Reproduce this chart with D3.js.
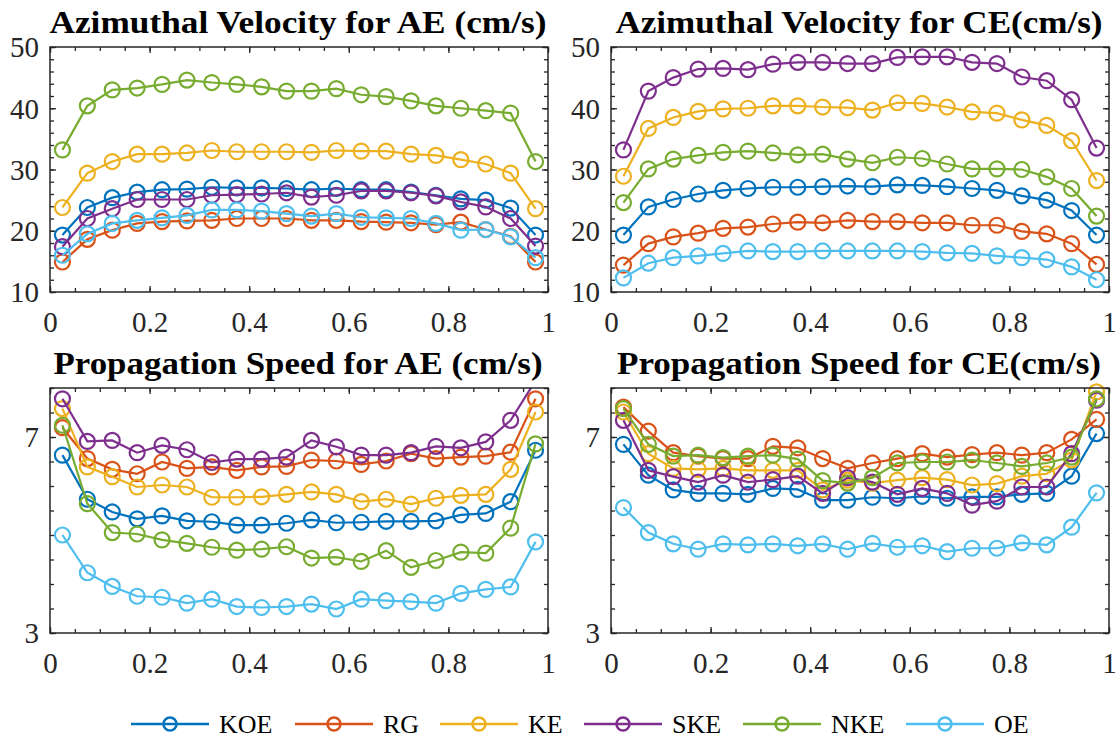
<!DOCTYPE html>
<html>
<head>
<meta charset="utf-8">
<script src="https://cdn.jsdelivr.net/npm/d3@7"></script>
</head>
<body style="margin:0; font-family:'Liberation Serif'">
<div id="chart" style="position:relative; width:1118px; height:738px; font-family:'Liberation Serif'">
  <svg id="fig" width="1118" height="738" style="font-family:'Liberation Serif'"></svg>
  <div style="position:absolute; left:0; top:0; font-size:1px; color:#fff">&nbsp;</div>
</div>
<script>
// normalised radius positions of the 20 bins
var xPos = [0.025, 0.075, 0.125, 0.175, 0.225, 0.275, 0.325, 0.375, 0.425, 0.475,
            0.525, 0.575, 0.625, 0.675, 0.725, 0.775, 0.825, 0.875, 0.925, 0.975];

var seriesNames = ["KOE", "RG", "KE", "SKE", "NKE", "OE"];
var seriesColors = ["#0072BD", "#D95319", "#EDB120", "#7E2F8E", "#77AC30", "#4DBEEE"];

var xTicks = [0, 0.2, 0.4, 0.6, 0.8, 1];
var xTickLabels = ["0", "0.2", "0.4", "0.6", "0.8", "1"];
var velTicks = [10, 20, 30, 40, 50];
var speedTicks = [3, 7];

// series order: KOE, RG, KE, SKE, NKE, OE
var velAE = [
  [19.3, 23.8, 25.4, 26.3, 26.7, 26.8, 27.1, 27.0, 27.0, 26.9, 26.7, 26.9, 26.7, 26.7, 26.3, 25.8, 25.2, 25.0, 23.7, 19.3],
  [14.9, 18.6, 20.1, 21.2, 21.5, 21.6, 21.7, 22.0, 22.0, 22.0, 21.7, 21.7, 21.5, 21.4, 21.3, 21.0, 21.4, 20.2, 19.1, 14.9],
  [23.8, 29.4, 31.3, 32.5, 32.5, 32.7, 33.1, 32.9, 32.9, 32.9, 32.8, 33.1, 33.0, 33.0, 32.5, 32.3, 31.6, 30.9, 29.4, 23.6],
  [17.4, 22.0, 23.6, 25.1, 25.1, 25.1, 25.8, 25.9, 26.0, 26.2, 25.5, 25.8, 26.5, 26.5, 26.2, 25.7, 24.7, 23.9, 22.0, 17.5],
  [33.2, 40.4, 43.0, 43.3, 43.9, 44.6, 44.2, 43.9, 43.5, 42.8, 42.8, 43.2, 42.2, 41.9, 41.2, 40.4, 40.0, 39.6, 39.2, 31.3],
  [16.0, 19.5, 21.2, 21.7, 22.1, 22.5, 23.4, 23.4, 23.2, 22.8, 22.4, 22.8, 22.2, 22.1, 22.0, 21.2, 20.1, 20.2, 19.0, 15.6]
];
var velCE = [
  [19.3, 23.9, 25.1, 26.0, 26.6, 26.9, 27.1, 27.1, 27.2, 27.3, 27.2, 27.5, 27.4, 27.2, 26.9, 26.6, 25.7, 25.0, 23.3, 19.3],
  [14.4, 17.9, 19.0, 19.6, 20.4, 20.6, 21.1, 21.4, 21.3, 21.7, 21.5, 21.5, 21.3, 21.3, 20.9, 20.9, 19.9, 19.5, 17.9, 14.5],
  [28.9, 36.7, 38.5, 39.5, 39.9, 40.0, 40.4, 40.4, 40.2, 40.1, 39.7, 40.9, 40.8, 40.2, 39.4, 39.2, 38.1, 37.2, 34.7, 28.2],
  [33.2, 42.8, 45.0, 46.4, 46.5, 46.3, 47.2, 47.5, 47.5, 47.3, 47.3, 48.3, 48.4, 48.4, 47.5, 47.3, 45.1, 44.5, 41.4, 33.5],
  [24.6, 30.1, 31.7, 32.3, 32.8, 33.0, 32.7, 32.4, 32.5, 31.7, 31.1, 32.0, 31.8, 30.9, 30.1, 30.1, 30.0, 28.8, 26.9, 22.4],
  [12.3, 14.7, 15.6, 15.9, 16.3, 16.7, 16.6, 16.6, 16.7, 16.7, 16.7, 16.7, 16.6, 16.4, 16.3, 15.9, 15.6, 15.3, 14.1, 12.0]
];
var speedAE = [
  [6.63, 5.73, 5.47, 5.33, 5.39, 5.29, 5.27, 5.20, 5.20, 5.24, 5.31, 5.25, 5.26, 5.28, 5.28, 5.29, 5.41, 5.44, 5.68, 6.73],
  [7.19, 6.56, 6.34, 6.25, 6.49, 6.36, 6.39, 6.32, 6.39, 6.40, 6.53, 6.51, 6.44, 6.51, 6.66, 6.56, 6.59, 6.61, 6.69, 7.78],
  [7.58, 6.39, 6.19, 5.98, 6.02, 5.98, 5.77, 5.77, 5.78, 5.83, 5.88, 5.83, 5.68, 5.73, 5.63, 5.75, 5.81, 5.83, 6.34, 7.51],
  [7.78, 6.91, 6.93, 6.68, 6.83, 6.74, 6.48, 6.55, 6.55, 6.59, 6.93, 6.80, 6.63, 6.63, 6.68, 6.81, 6.78, 6.90, 7.34, 8.15],
  [7.24, 5.64, 5.05, 5.02, 4.90, 4.83, 4.75, 4.69, 4.71, 4.76, 4.53, 4.55, 4.46, 4.68, 4.34, 4.48, 4.65, 4.63, 5.14, 6.86],
  [5.00, 4.23, 3.95, 3.75, 3.73, 3.61, 3.69, 3.54, 3.52, 3.54, 3.59, 3.49, 3.69, 3.66, 3.64, 3.61, 3.81, 3.89, 3.94, 4.86]
];
var speedCE = [
  [6.85, 6.22, 5.92, 5.85, 5.85, 5.83, 5.95, 5.93, 5.71, 5.71, 5.77, 5.75, 5.79, 5.75, 5.78, 5.78, 5.83, 5.85, 6.20, 7.07],
  [7.61, 7.12, 6.68, 6.61, 6.56, 6.56, 6.81, 6.78, 6.56, 6.36, 6.47, 6.56, 6.66, 6.59, 6.64, 6.68, 6.63, 6.68, 6.95, 7.36],
  [7.51, 6.66, 6.36, 6.34, 6.36, 6.32, 6.32, 6.32, 5.92, 6.12, 6.06, 6.12, 6.17, 6.13, 6.02, 6.05, 6.20, 6.25, 6.53, 7.92],
  [7.34, 6.32, 6.19, 6.08, 6.22, 6.08, 6.13, 6.20, 5.85, 6.17, 6.08, 5.83, 5.95, 5.85, 5.61, 5.69, 5.98, 5.98, 6.66, 7.75],
  [7.58, 6.85, 6.61, 6.63, 6.58, 6.61, 6.63, 6.55, 6.11, 6.06, 6.17, 6.47, 6.49, 6.49, 6.53, 6.47, 6.40, 6.47, 6.59, 7.78],
  [5.56, 5.05, 4.82, 4.71, 4.82, 4.80, 4.82, 4.78, 4.82, 4.71, 4.83, 4.75, 4.78, 4.66, 4.73, 4.73, 4.84, 4.80, 5.16, 5.86]
];

var W = 498, H = 245;
var panels = [
  {title: "Azimuthal Velocity for AE (cm/s)", data: velAE, left: 50, top: 47, ydom: [10, 50], yt: velTicks, ystep: 2, tlen: 497},
  {title: "Azimuthal Velocity for CE(cm/s)", data: velCE, left: 611, top: 47, ydom: [10, 50], yt: velTicks, ystep: 2, tlen: 487},
  {title: "Propagation Speed for AE (cm/s)", data: speedAE, left: 50, top: 388, ydom: [3, 8], yt: speedTicks, ystep: 0.5, tlen: 489},
  {title: "Propagation Speed for CE(cm/s)", data: speedCE, left: 611, top: 388, ydom: [3, 8], yt: speedTicks, ystep: 0.5, tlen: 484}
];
// legend entry left edges (layout)
var legendX = [131, 295, 440, 584, 743, 906];

var svg = d3.select("#fig");
var axCol = "#262626";
var FONT = "Liberation Serif";

function setFont(sel) {
  sel.attr("font-family", FONT).style("font-family", "'Liberation Serif'");
}

panels.forEach(function(p, pi) {
  var g = svg.append("g").attr("transform", "translate(" + p.left + "," + p.top + ")");
  var x = d3.scaleLinear().domain([0, 1]).range([0, W]);
  var y = d3.scaleLinear().domain(p.ydom).range([H, 0]);

  // title
  g.append("text")
    .attr("x", W / 2 - 1).attr("y", -14)
    .attr("text-anchor", "middle")
    .call(setFont)
    .attr("font-weight", "bold").attr("font-size", 31)
    .attr("textLength", p.tlen).attr("lengthAdjust", "spacingAndGlyphs")
    .attr("fill", "#000")
    .text(p.title);

  var xMinor = d3.range(0, 1.0001, 0.05);
  var yMinor = d3.range(p.ydom[0], p.ydom[1] + 0.0001, p.ystep);

  function styleAxis(sel) {
    sel.call(setFont);
    sel.selectAll("path, line").attr("stroke", axCol).attr("stroke-width", 1.3);
    sel.select(".domain").remove();
  }

  // minor ticks on all four sides
  g.append("g").attr("transform", "translate(0," + H + ")")
    .call(d3.axisBottom(x).tickValues(xMinor).tickSize(-4).tickFormat("")).call(styleAxis);
  g.append("g")
    .call(d3.axisTop(x).tickValues(xMinor).tickSize(-4).tickFormat("")).call(styleAxis);
  g.append("g")
    .call(d3.axisLeft(y).tickValues(yMinor).tickSize(-4).tickFormat("")).call(styleAxis);
  g.append("g").attr("transform", "translate(" + W + ",0)")
    .call(d3.axisRight(y).tickValues(yMinor).tickSize(-4).tickFormat("")).call(styleAxis);

  // major ticks with labels
  var xa = g.append("g").attr("transform", "translate(0," + H + ")")
    .call(d3.axisBottom(x).tickValues(xTicks).tickSize(-6).tickPadding(19)
      .tickFormat(function(d, i) { return xTickLabels[i]; }));
  xa.call(styleAxis);
  xa.selectAll("text").call(setFont).attr("font-size", 29).attr("fill", axCol);

  var ya = g.append("g")
    .call(d3.axisLeft(y).tickValues(p.yt).tickSize(-6).tickPadding(11).tickFormat(d3.format("d")));
  ya.call(styleAxis);
  ya.selectAll("text").call(setFont).attr("font-size", 29).attr("dy", "0.34em").attr("fill", axCol);

  g.append("g").attr("transform", "translate(" + W + ",0)")
    .call(d3.axisRight(y).tickValues(p.yt).tickSize(-6).tickFormat("")).call(styleAxis);
  g.append("g")
    .call(d3.axisTop(x).tickValues(xTicks).tickSize(-6).tickFormat("")).call(styleAxis);

  // clip for lines
  var cid = "clip" + pi;
  g.append("clipPath").attr("id", cid)
    .append("rect").attr("x", 0).attr("y", 0).attr("width", W).attr("height", H);

  var line = d3.line().x(function(d, i) { return x(xPos[i]); }).y(function(d) { return y(d); });

  p.data.forEach(function(vals, si) {
    var sg = g.append("g");
    sg.append("path")
      .attr("d", line(vals))
      .attr("clip-path", "url(#" + cid + ")")
      .attr("fill", "none")
      .attr("stroke", seriesColors[si])
      .attr("stroke-width", 2.2);
    sg.selectAll("circle")
      .data(vals.map(function(v, i) { return {v: v, i: i}; })
        .filter(function(d) { return d.v >= p.ydom[0] && d.v <= p.ydom[1]; }))
      .enter().append("circle")
      .attr("cx", function(d) { return x(xPos[d.i]); })
      .attr("cy", function(d) { return y(d.v); })
      .attr("r", 7.5)
      .attr("fill", "none")
      .attr("stroke", seriesColors[si])
      .attr("stroke-width", 2.2);
  });

  // box
  g.append("rect").attr("width", W).attr("height", H)
    .attr("fill", "none").attr("stroke", axCol).attr("stroke-width", 1.5);
});

// legend
var leg = svg.append("g").attr("transform", "translate(0,724)");
seriesNames.forEach(function(name, i) {
  var e = leg.append("g").attr("transform", "translate(" + legendX[i] + ",0)");
  e.append("line").attr("x1", 0).attr("x2", 78).attr("y1", 0).attr("y2", 0)
    .attr("stroke", seriesColors[i]).attr("stroke-width", 2.5);
  e.append("circle").attr("cx", 39).attr("cy", 0).attr("r", 6.5)
    .attr("fill", "none").attr("stroke", seriesColors[i]).attr("stroke-width", 2.5);
  e.append("text").attr("x", 88).attr("y", 9)
    .call(setFont)
    .attr("font-size", 26).attr("fill", "#000").text(name);
});
</script>
</body>
</html>
